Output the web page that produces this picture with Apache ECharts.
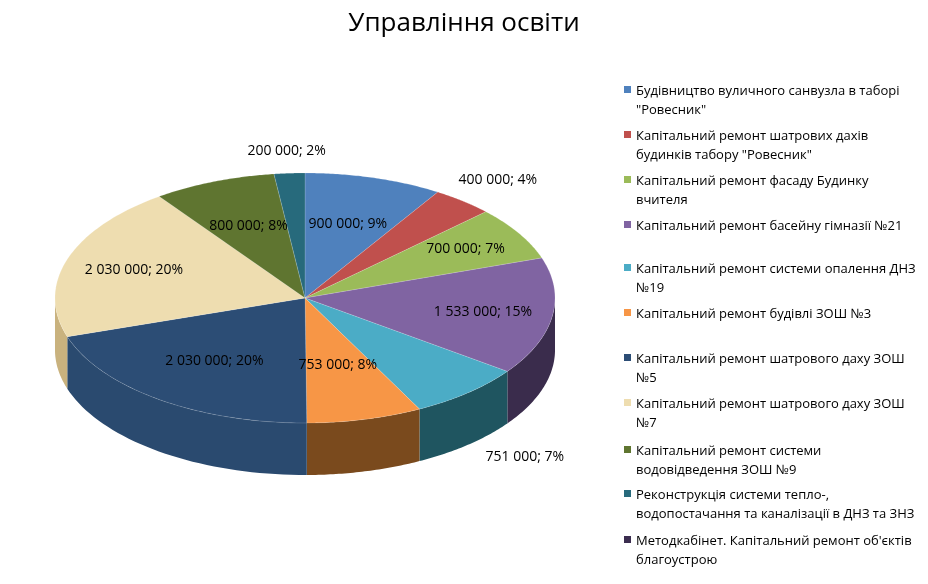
<!DOCTYPE html>
<html><head><meta charset="utf-8">
<script src="https://cdn.jsdelivr.net/npm/echarts@6/dist/echarts.min.js"></script>
<style>html,body{margin:0;background:#fff}#main{width:928px;height:584px}</style>
</head><body><div id="main"></div>
<script>
var names = ['Будівництво вуличного санвузла в таборі\n"Ровесник"',
  'Капітальний ремонт шатрових дахів\nбудинків табору "Ровесник"',
  'Капітальний ремонт фасаду Будинку\nвчителя',
  'Капітальний ремонт басейну гімназії №21',
  'Капітальний ремонт системи опалення ДНЗ\n№19',
  'Капітальний ремонт будівлі ЗОШ №3',
  'Капітальний ремонт шатрового даху ЗОШ\n№5',
  'Капітальний ремонт шатрового даху ЗОШ\n№7',
  'Капітальний ремонт системи\nводовідведення ЗОШ №9',
  'Реконструкція системи тепло-,\nводопостачання та каналізації в ДНЗ та ЗНЗ',
  'Методкабінет. Капітальний ремонт об\'єктів\nблагоустрою'];
var values = [900000, 400000, 700000, 1533000, 751000, 753000, 2030000, 2030000, 800000, 200000];
var pctLabels = ['9%', '4%', '7%', '15%', '7%', '8%', '20%', '20%', '8%', '2%'];
var colors = ['#4F81BD', '#C0504D', '#9BBB59', '#8064A2', '#4BACC6', '#F79646', '#2C4D75', '#EEDDB0', '#5F7530', '#276A7C', '#3B2D4F'];
var walls = ['#34567f', '#80302e', '#67803a', '#3a2c4c', '#1f5560', '#7a4a1d', '#2a4a6f', '#c9b27e', '#3f4f1f', '#1a4955'];
var labelR = [0.62, 1.22, 0.75, 0.72, 1.35, 0.55, 0.62, 0.72, 0.62, 1.18];

var cx = 305, cy = 298, rx = 250, ry = 125, depth = 52;
var total = values.reduce(function (a, b) { return a + b; }, 0);
var starts = [], cum = 0;
values.forEach(function (v) { starts.push(-Math.PI / 2 + 2 * Math.PI * cum / total); cum += v; });
function ang(i) { return [starts[i], starts[i] + 2 * Math.PI * values[i] / total]; }
function pt(a, dy) { return [cx + rx * Math.cos(a), cy + ry * Math.sin(a) + (dy || 0)]; }
function fmt(v) { return String(v).replace(/\B(?=(\d{3})+(?!\d))/g, ' '); }

var chart = echarts.init(document.getElementById('main'));
var idx = values.map(function (v, i) { return i; });

var legend = [];
var legendY = [90, 135, 180, 225, 268, 313, 358, 403, 450, 494, 540];
names.forEach(function (n, i) {
  if (i >= 11) return;
  legend.push({ type: 'rect', shape: { x: 624, y: legendY[i] - 4, width: 7, height: 7 }, style: { fill: colors[i] } });
  legend.push({ type: 'text', x: 636, y: legendY[i] - 8, style: { text: n, font: '13px "Open Sans", sans-serif', fill: '#000', lineHeight: 19 } });
});

chart.setOption({
  animation: false,
  title: { text: 'Управління освіти', left: 'center', top: 6, textStyle: { fontSize: 26, fontWeight: 'normal', color: '#000', fontFamily: '"Open Sans", sans-serif' } },
  graphic: legend,
  series: [{
    type: 'custom', coordinateSystem: 'none', data: idx,
    renderItem: function (params, api) {
      var i = params.dataIndex, a = ang(i);
      var s = Math.max(a[0], 0), e = Math.min(a[1], Math.PI);
      if (e <= s) return { type: 'group', children: [] };
      var top = [], bot = [];
      for (var k = 0; k <= 40; k++) {
        var t = s + (e - s) * k / 40;
        top.push(pt(t)); bot.unshift(pt(t, depth));
      }
      return { type: 'polygon', shape: { points: top.concat(bot) }, style: { fill: walls[i] } };
    }
  }, {
    type: 'custom', coordinateSystem: 'none', data: idx,
    renderItem: function (params, api) {
      var i = params.dataIndex, a = ang(i);
      var pts = [[cx, cy]];
      for (var k = 0; k <= 60; k++) pts.push(pt(a[0] + (a[1] - a[0]) * k / 60));
      var m = (a[0] + a[1]) / 2;
      var lx = cx + rx * labelR[i] * Math.cos(m), ly = cy + ry * labelR[i] * Math.sin(m);
      if (i === 4) ly += depth * 0.6;
      return { type: 'group', children: [
        { type: 'polygon', shape: { points: pts }, style: { fill: colors[i], stroke: 'rgba(255,255,255,0.3)', lineWidth: 0.5 } },
        { type: 'text', x: lx, y: ly, z2: 10, style: { text: fmt(values[i]) + '; ' + pctLabels[i], align: 'center', verticalAlign: 'middle', font: '14px "Open Sans", sans-serif', fill: '#000' } }
      ] };
    }
  }]
});
</script></body></html>
